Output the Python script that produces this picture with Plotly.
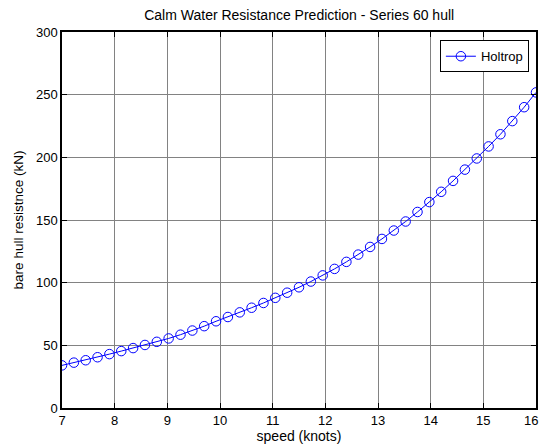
import plotly.graph_objects as go

speed = [7.0, 7.225, 7.45, 7.675, 7.9, 8.125, 8.35, 8.575, 8.8, 9.025,
         9.25, 9.475, 9.7, 9.925, 10.15, 10.375, 10.6, 10.825, 11.05, 11.275,
         11.5, 11.725, 11.95, 12.175, 12.4, 12.625, 12.85, 13.075, 13.3, 13.525,
         13.75, 13.975, 14.2, 14.425, 14.65, 14.875, 15.1, 15.325, 15.55, 15.775, 16.0]
resistance = [34.0, 36.2, 38.1, 40.5, 43.0, 45.4, 47.8, 50.3, 52.8, 55.5,
              58.5, 61.8, 65.3, 69.2, 72.6, 76.3, 80.0, 83.8, 87.9, 92.0,
              96.3, 100.9, 105.8, 111.0, 116.6, 122.4, 128.5, 134.9, 141.6, 148.8,
              156.4, 164.3, 172.5, 181.2, 190.2, 199.1, 208.7, 218.4, 228.9, 240.0, 251.8]
x_ticks = [7, 8, 9, 10, 11, 12, 13, 14, 15, 16]
y_ticks = [0, 50, 100, 150, 200, 250, 300]

FONT = "Liberation Sans, Arial, sans-serif"

fig = go.Figure()
fig.add_trace(go.Scatter(
    x=speed, y=resistance, mode="lines+markers", name="Holtrop",
    line=dict(color="rgb(0,0,255)", width=1),
    marker=dict(symbol="circle-open", size=9.5, color="rgb(0,0,255)",
                line=dict(width=1, color="rgb(0,0,255)")),
))

axis_common = dict(
    showline=True, linecolor="black", linewidth=1.5, mirror="ticks",
    ticks="inside", ticklen=5, tickcolor="black", tickwidth=1,
    showgrid=True, gridcolor="rgb(130,130,130)", gridwidth=1,
    zeroline=False, tickfont=dict(family=FONT, size=13, color="black"),
)

fig.update_layout(
    width=541, height=448,
    margin=dict(l=62, r=3, t=32, b=40),
    paper_bgcolor="white", plot_bgcolor="white",
    title=dict(text="Calm Water Resistance Prediction - Series 60 hull",
               x=0.553, xanchor="center", y=0.978, yanchor="top",
               font=dict(family=FONT, size=14, color="black")),
    xaxis=dict(range=[7, 16], tickvals=x_ticks,
               title=dict(text="speed (knots)", standoff=3,
                          font=dict(family=FONT, size=14, color="black")),
               **axis_common),
    yaxis=dict(range=[0, 300], tickvals=y_ticks,
               title=dict(text="bare hull resistnce (kN)", standoff=9,
                          font=dict(family=FONT, size=13.5, color="black")),
               **axis_common),
    legend=dict(x=0.985, y=0.978, xanchor="right", yanchor="top",
                bgcolor="white", bordercolor="black", borderwidth=1,
                font=dict(family=FONT, size=13, color="black")),
    showlegend=True,
)

# the last tick label of the x axis, kept inside the page
fig.add_annotation(x=x_ticks[-1], y=0, xref="x", yref="paper", text=str(x_ticks[-1]),
                   showarrow=False, yanchor="top", xanchor="right", yshift=-3, xshift=4,
                   font=dict(family=FONT, size=13, color="black"))

fig.write_html("out.html")
